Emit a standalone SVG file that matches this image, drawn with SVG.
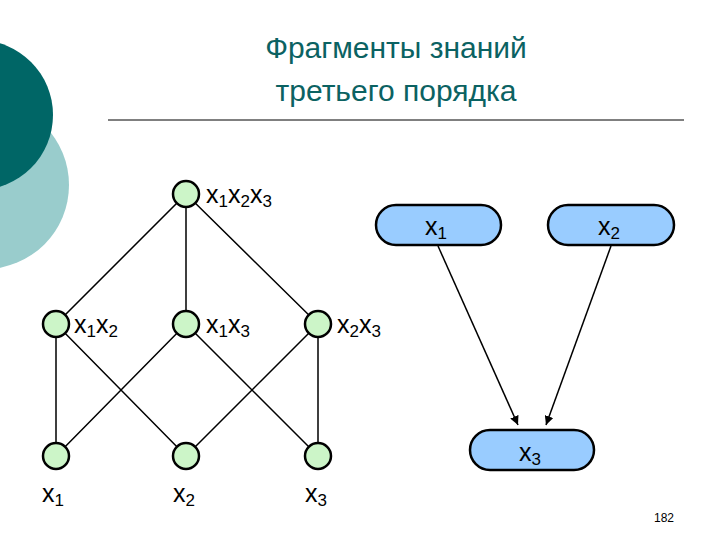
<svg xmlns="http://www.w3.org/2000/svg" width="720" height="540" viewBox="0 0 720 540">
<style>
.t{font-family:"Liberation Sans",Arial,sans-serif;fill:#0b6262;font-size:30px;text-anchor:middle}
.l{font-family:"Liberation Sans",Arial,sans-serif;fill:#000;font-size:25px}
.s{font-size:17px}
.c{fill:#ccf5c8;stroke:#000;stroke-width:2.5}
.p{fill:#99ccff;stroke:#000;stroke-width:2.5}
.e{stroke:#000;stroke-width:1.5;fill:none}
</style>
<defs><marker id="a" viewBox="0 0 10 10" refX="10" refY="5" markerWidth="9" markerHeight="9" orient="auto" markerUnits="userSpaceOnUse"><path d="M0,0L10,5L0,10z" fill="#000"/></marker></defs>
<rect width="720" height="540" fill="#fff"/>
<circle cx="-15" cy="185" r="84" fill="#99cccc"/>
<circle cx="-22" cy="115" r="75" fill="#006666"/>
<text class="t" x="396" y="58">Фрагменты знаний</text>
<text class="t" x="396" y="101">третьего порядка</text>
<line x1="108" y1="120" x2="684" y2="120" stroke="#000" stroke-width="1"/>
<g id="edges">
<path class="e" d="M186,194L56,324M186,194L186,324M186,194L318,324M56,324L56,456M56,324L186,456M186,324L56,456M186,324L318,456M318,324L186,456M318,324L318,456"/>
<path class="e" d="M438,246L518,425" marker-end="url(#a)"/>
<path class="e" d="M611,246L546,425" marker-end="url(#a)"/>
</g>
<g id="n123"><circle class="c" cx="186" cy="194" r="13"/><text class="l" x="206" y="203">x<tspan class="s" dy="4">1</tspan><tspan dy="-4">x</tspan><tspan class="s" dy="4">2</tspan><tspan dy="-4">x</tspan><tspan class="s" dy="4">3</tspan></text></g>
<g id="n12"><circle class="c" cx="56" cy="324" r="13"/><text class="l" x="74" y="333">x<tspan class="s" dy="4">1</tspan><tspan dy="-4">x</tspan><tspan class="s" dy="4">2</tspan></text></g>
<g id="n13"><circle class="c" cx="186" cy="324" r="13"/><text class="l" x="206" y="333">x<tspan class="s" dy="4">1</tspan><tspan dy="-4">x</tspan><tspan class="s" dy="4">3</tspan></text></g>
<g id="n23"><circle class="c" cx="318" cy="324" r="13"/><text class="l" x="337" y="333">x<tspan class="s" dy="4">2</tspan><tspan dy="-4">x</tspan><tspan class="s" dy="4">3</tspan></text></g>
<g id="b1"><circle class="c" cx="56" cy="456" r="13"/><text class="l" x="42" y="502">x<tspan class="s" dy="4">1</tspan></text></g>
<g id="b2"><circle class="c" cx="186" cy="456" r="13"/><text class="l" x="173" y="502">x<tspan class="s" dy="4">2</tspan></text></g>
<g id="b3"><circle class="c" cx="318" cy="456" r="13"/><text class="l" x="305" y="502">x<tspan class="s" dy="4">3</tspan></text></g>
<g id="p1"><rect class="p" x="376" y="205" width="125" height="40" rx="20"/><text class="l" x="425" y="235">x<tspan class="s" dy="4">1</tspan></text></g>
<g id="p2"><rect class="p" x="548" y="205" width="126" height="40" rx="20"/><text class="l" x="598" y="235">x<tspan class="s" dy="4">2</tspan></text></g>
<g id="p3"><rect class="p" x="470" y="430" width="124" height="40" rx="20"/><text class="l" x="519" y="461">x<tspan class="s" dy="4">3</tspan></text></g>
<text x="664" y="522" font-family="Liberation Sans,Arial,sans-serif" font-size="12" text-anchor="middle">182</text>
</svg>
